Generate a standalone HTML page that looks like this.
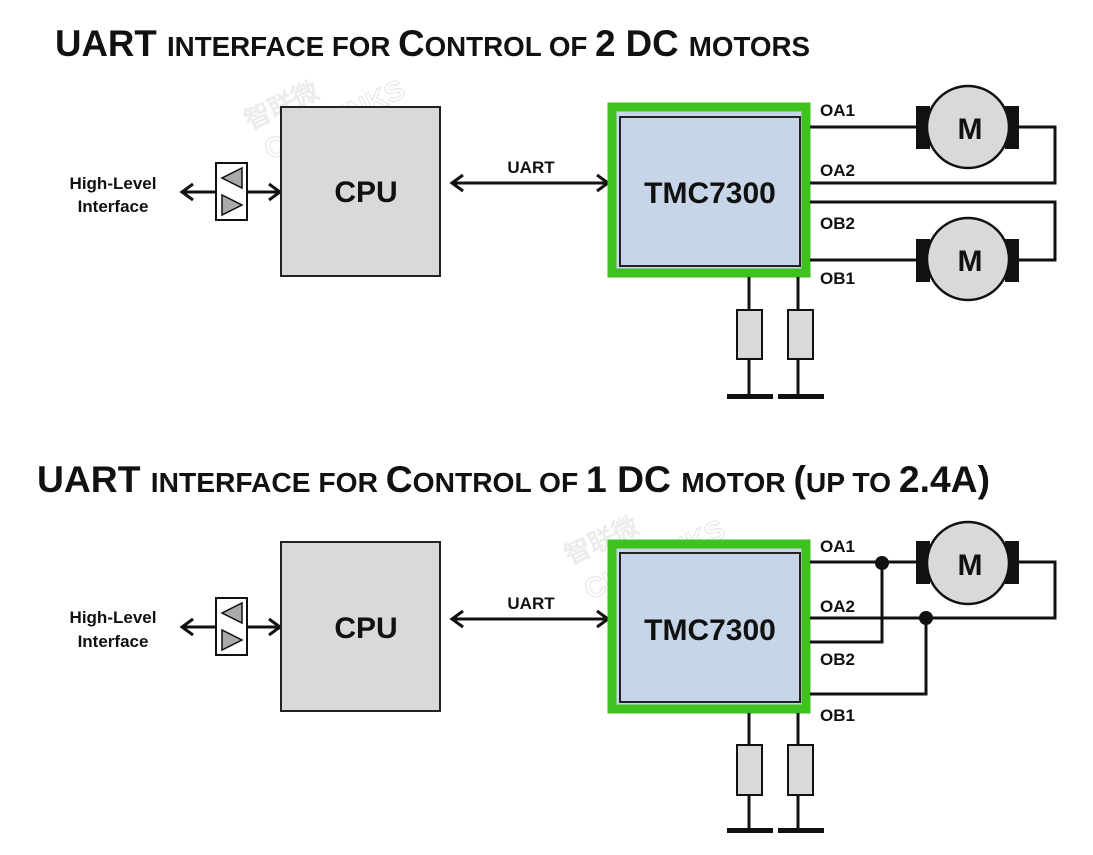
<!DOCTYPE html>
<html><head><meta charset="utf-8"><style>
html,body{margin:0;padding:0;background:#fff;}
svg{display:block;}
text{font-family:"Liberation Sans",sans-serif;font-weight:bold;fill:#111;}
</style></head><body>
<svg width="1093" height="855" viewBox="0 0 1093 855" xmlns="http://www.w3.org/2000/svg">
<defs>
<marker id="ah" markerWidth="16" markerHeight="20" refX="13" refY="10" orient="auto-start-reverse" markerUnits="userSpaceOnUse">
<path d="M2,2 L13,10 L2,18" fill="none" stroke="#111" stroke-width="3"/>
</marker>
</defs>

<!-- watermarks -->
<g>
<text x="250" y="130" font-size="26" transform="rotate(-25 250 130)" style="fill:#ececec">智联微</text>
<text x="270" y="160" font-size="28" transform="rotate(-25 270 160)" style="fill:none;stroke:#e4e4e4;stroke-width:1">CHIPLINKS</text>
<text x="570" y="565" font-size="26" transform="rotate(-25 570 565)" style="fill:#ececec">智联微</text>
<text x="590" y="600" font-size="28" transform="rotate(-25 590 600)" style="fill:none;stroke:#e4e4e4;stroke-width:1">CHIPLINKS</text>
</g>

<!-- Titles -->
<text x="55" y="56" font-size="37" textLength="755" lengthAdjust="spacingAndGlyphs">UART <tspan font-size="28">INTERFACE FOR </tspan>C<tspan font-size="28">ONTROL OF </tspan>2 DC <tspan font-size="28">MOTORS</tspan></text>
<text x="37" y="492" font-size="37" textLength="953" lengthAdjust="spacingAndGlyphs">UART <tspan font-size="28">INTERFACE FOR </tspan>C<tspan font-size="28">ONTROL OF </tspan>1 DC <tspan font-size="28">MOTOR </tspan>(<tspan font-size="28">UP TO </tspan>2.4A)</text>

<!-- ===== TOP ===== -->
<g>
<text x="113" y="189" font-size="17" text-anchor="middle">High-Level</text>
<text x="113" y="212" font-size="17" text-anchor="middle">Interface</text>
<line x1="182" y1="192" x2="216" y2="192" stroke="#111" stroke-width="3" marker-start="url(#ah)"/>
<line x1="247" y1="192" x2="280" y2="192" stroke="#111" stroke-width="3" marker-end="url(#ah)"/>
<rect x="216" y="163" width="31" height="57" fill="#fff" stroke="#111" stroke-width="2"/>
<polygon points="242,168 242,188 222,178" fill="#aaa" stroke="#111" stroke-width="1.5"/>
<polygon points="222,195 222,215 242,205" fill="#aaa" stroke="#111" stroke-width="1.5"/>
<rect x="281" y="107" width="159" height="169" fill="#d9d9d9" stroke="#222" stroke-width="2"/>
<text x="366" y="202" font-size="30" text-anchor="middle">CPU</text>
<line x1="452" y1="183" x2="608" y2="183" stroke="#111" stroke-width="3" marker-start="url(#ah)" marker-end="url(#ah)"/>
<text x="531" y="173" font-size="17" text-anchor="middle">UART</text>
<rect x="612" y="107" width="194" height="166" fill="#c6d6e8" stroke="#3ec21e" stroke-width="9"/>
<rect x="620" y="117" width="180" height="149" fill="#c6d6e8" stroke="#222" stroke-width="2"/>
<text x="710" y="203" font-size="30" text-anchor="middle">TMC7300</text>
<g stroke="#111" stroke-width="3" fill="none">
<polyline points="810,127 920,127"/>
<polyline points="1018,127 1055,127 1055,183 810,183"/>
<polyline points="810,202 1055,202 1055,260 1018,260"/>
<polyline points="810,260 920,260"/>
<line x1="749" y1="277" x2="749" y2="397"/>
<line x1="798" y1="277" x2="798" y2="397"/>
</g>
<text x="820" y="116" font-size="17">OA1</text>
<text x="820" y="176" font-size="17">OA2</text>
<text x="820" y="229" font-size="17">OB2</text>
<text x="820" y="284" font-size="17">OB1</text>
<rect x="916" y="106" width="14" height="43" fill="#111"/>
<rect x="1005" y="106" width="14" height="43" fill="#111"/>
<circle cx="968" cy="127" r="41" fill="#d9d9d9" stroke="#111" stroke-width="2.5"/>
<text x="970" y="139" font-size="30" text-anchor="middle">M</text>
<rect x="916" y="239" width="14" height="43" fill="#111"/>
<rect x="1005" y="239" width="14" height="43" fill="#111"/>
<circle cx="968" cy="259" r="41" fill="#d9d9d9" stroke="#111" stroke-width="2.5"/>
<text x="970" y="271" font-size="30" text-anchor="middle">M</text>
<rect x="737" y="310" width="25" height="49" fill="#d9d9d9" stroke="#111" stroke-width="2"/>
<rect x="788" y="310" width="25" height="49" fill="#d9d9d9" stroke="#111" stroke-width="2"/>
<rect x="727" y="394" width="46" height="5" fill="#111"/>
<rect x="778" y="394" width="46" height="5" fill="#111"/>
</g>

<!-- ===== BOTTOM ===== -->
<g>
<text x="113" y="623" font-size="17" text-anchor="middle">High-Level</text>
<text x="113" y="647" font-size="17" text-anchor="middle">Interface</text>
<line x1="182" y1="627" x2="216" y2="627" stroke="#111" stroke-width="3" marker-start="url(#ah)"/>
<line x1="247" y1="627" x2="280" y2="627" stroke="#111" stroke-width="3" marker-end="url(#ah)"/>
<rect x="216" y="598" width="31" height="57" fill="#fff" stroke="#111" stroke-width="2"/>
<polygon points="242,603 242,623 222,613" fill="#aaa" stroke="#111" stroke-width="1.5"/>
<polygon points="222,630 222,650 242,640" fill="#aaa" stroke="#111" stroke-width="1.5"/>
<rect x="281" y="542" width="159" height="169" fill="#d9d9d9" stroke="#222" stroke-width="2"/>
<text x="366" y="638" font-size="30" text-anchor="middle">CPU</text>
<line x1="452" y1="619" x2="608" y2="619" stroke="#111" stroke-width="3" marker-start="url(#ah)" marker-end="url(#ah)"/>
<text x="531" y="609" font-size="17" text-anchor="middle">UART</text>
<rect x="612" y="544" width="194" height="165" fill="#c6d6e8" stroke="#3ec21e" stroke-width="9"/>
<rect x="620" y="553" width="180" height="149" fill="#c6d6e8" stroke="#222" stroke-width="2"/>
<text x="710" y="640" font-size="30" text-anchor="middle">TMC7300</text>
<g stroke="#111" stroke-width="3" fill="none">
<polyline points="810,562 920,562"/>
<polyline points="1018,562 1055,562 1055,618 810,618"/>
<polyline points="810,642 882,642 882,562"/>
<polyline points="810,694 926,694 926,618"/>
<line x1="749" y1="713" x2="749" y2="831"/>
<line x1="798" y1="713" x2="798" y2="831"/>
</g>
<circle cx="882" cy="563" r="7" fill="#111"/>
<circle cx="926" cy="618" r="7" fill="#111"/>
<text x="820" y="552" font-size="17">OA1</text>
<text x="820" y="612" font-size="17">OA2</text>
<text x="820" y="665" font-size="17">OB2</text>
<text x="820" y="721" font-size="17">OB1</text>
<rect x="916" y="541" width="14" height="43" fill="#111"/>
<rect x="1005" y="541" width="14" height="43" fill="#111"/>
<circle cx="968" cy="563" r="41" fill="#d9d9d9" stroke="#111" stroke-width="2.5"/>
<text x="970" y="575" font-size="30" text-anchor="middle">M</text>
<rect x="737" y="745" width="25" height="50" fill="#d9d9d9" stroke="#111" stroke-width="2"/>
<rect x="788" y="745" width="25" height="50" fill="#d9d9d9" stroke="#111" stroke-width="2"/>
<rect x="727" y="828" width="46" height="5" fill="#111"/>
<rect x="778" y="828" width="46" height="5" fill="#111"/>
</g>
</svg>
</body></html>
